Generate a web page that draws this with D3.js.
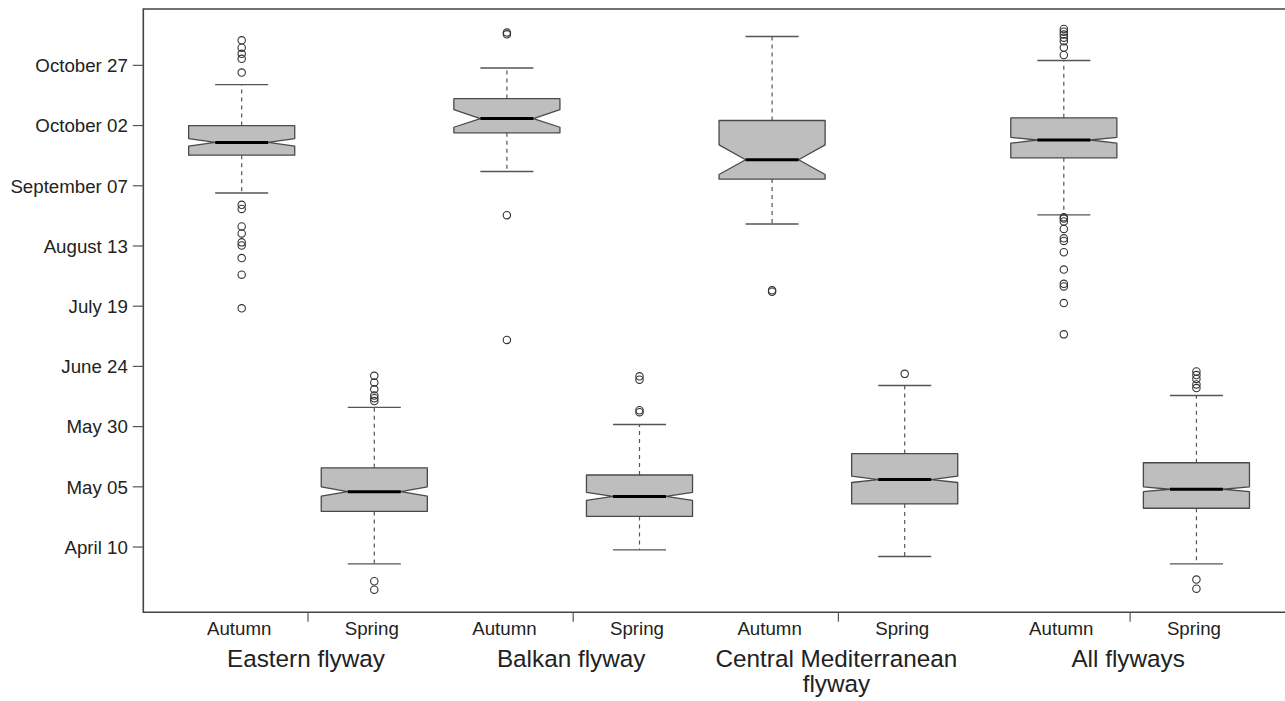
<!DOCTYPE html>
<html>
<head>
<meta charset="utf-8">
<script src="https://cdn.jsdelivr.net/npm/d3@7"></script>
<style>
  html, body { margin: 0; padding: 0; background: #fff; }
  svg { display: block; }
  text { font-family: "Liberation Sans", Arial, Helvetica, sans-serif; fill: #222; }
</style>
</head>
<body>
<svg id="chart" width="1285" height="701"></svg>
<script>
// ---- Data (day of year) ----
const groups = ["Eastern flyway", "Balkan flyway", "Central Mediterranean flyway", "All flyways"];
const seasons = ["Autumn", "Spring"];
const boxLabels = ["Autumn", "Spring", "Autumn", "Spring", "Autumn", "Spring", "Autumn", "Spring"];

const whiskerLow  = [247.0,  93.0, 255.9,  98.8, 234.1,  96.1, 237.9,  93.0];
const q1          = [262.7, 114.8, 272.0, 112.7, 252.8, 117.9, 261.6, 116.1];
const notchLow    = [266.5, 121.1, 274.3, 119.4, 254.7, 126.8, 267.7, 123.0];
const median      = [268.0, 123.0, 277.9, 121.0, 260.8, 128.0, 269.0, 124.0];
const notchHigh   = [269.6, 125.0, 281.6, 122.7, 267.0, 129.4, 270.1, 125.0];
const q3          = [275.0, 132.9, 286.2, 129.9, 277.1, 138.8, 278.2, 135.0];
const whiskerHigh = [292.0, 158.0, 298.9, 150.9, 312.0, 167.1, 302.0, 162.9];

const outliers = [
  [310.4, 307.3, 304.8, 302.7, 297.0, 242.1, 240.4, 233.1, 230.2, 226.5, 225.2, 220.0, 213.1, 199.1],
  [171.1, 168.3, 165.5, 162.9, 161.8, 160.6, 85.8, 82.3],
  [313.6, 312.9, 237.8, 186.0],
  [170.9, 169.5, 156.8, 156.0],
  [206.6, 206.0],
  [171.9],
  [315.1, 314.0, 312.8, 311.5, 310.0, 307.4, 304.3, 236.9, 236.4, 235.2, 232.1, 228.2, 227.1, 222.4, 215.2, 209.3, 208.2, 201.3, 188.3],
  [172.9, 171.4, 169.8, 167.5, 166.0, 86.5, 82.7]
];

const tickDays   = [100, 125, 150, 175, 200, 225, 250, 275, 300];
const tickLabels = ["April 10", "May 05", "May 30", "June 24", "July 19", "August 13", "September 07", "October 02", "October 27"];

// ---- Layout ----
const groupShift = [0, 0, 0, 0.2];          // extra gap before "All flyways"
const boxPos = boxLabels.map((_, i) => i + 1 + groupShift[Math.floor(i / 2)]);
const plot = { left: 143.3, top: 9, bottom: 612.3, right: 1290 };

const svg = d3.select("#chart");
const x = d3.scaleLinear().domain([0.258, 8.868]).range([143.3, 1285]);
const y = d3.scaleLinear().domain([72.9, 323.4]).range([612.3, 9]);
const unit = x(2) - x(1);
const hw = 0.4 * unit;   // half box width

const lineCol = "#555";

// boxes
boxLabels.forEach((lab, i) => {
  const cx = x(boxPos[i]);
  const g = svg.append("g");
  // whiskers (dashed)
  g.append("line").attr("x1", cx).attr("x2", cx)
    .attr("y1", y(q3[i])).attr("y2", y(whiskerHigh[i]))
    .attr("stroke", lineCol).attr("stroke-width", 1.2).attr("stroke-dasharray", "4,4");
  g.append("line").attr("x1", cx).attr("x2", cx)
    .attr("y1", y(q1[i])).attr("y2", y(whiskerLow[i]))
    .attr("stroke", lineCol).attr("stroke-width", 1.2).attr("stroke-dasharray", "4,4");
  // staples
  [whiskerHigh[i], whiskerLow[i]].forEach(v => {
    g.append("line").attr("x1", cx - hw / 2).attr("x2", cx + hw / 2)
      .attr("y1", y(v)).attr("y2", y(v))
      .attr("stroke", lineCol).attr("stroke-width", 1.4);
  });
  // notched box
  const pts = [
    [cx - hw, y(q1[i])], [cx + hw, y(q1[i])], [cx + hw, y(notchLow[i])],
    [cx + hw / 2, y(median[i])], [cx + hw, y(notchHigh[i])], [cx + hw, y(q3[i])],
    [cx - hw, y(q3[i])], [cx - hw, y(notchHigh[i])], [cx - hw / 2, y(median[i])],
    [cx - hw, y(notchLow[i])]
  ];
  g.append("polygon").attr("points", pts.map(p => p.join(",")).join(" "))
    .attr("fill", "#bebebe").attr("stroke", "#4a4a4a").attr("stroke-width", 1.3)
    .attr("stroke-linejoin", "round");
  // median
  g.append("line").attr("x1", cx - hw / 2).attr("x2", cx + hw / 2)
    .attr("y1", y(median[i])).attr("y2", y(median[i]))
    .attr("stroke", "#000").attr("stroke-width", 3);
  // outliers
  g.selectAll("circle").data(outliers[i]).enter().append("circle")
    .attr("cx", cx).attr("cy", d => y(d)).attr("r", 3.7)
    .attr("fill", "none").attr("stroke", "#333").attr("stroke-width", 1.1);
});

// frame (right side lies beyond the picture)
svg.append("path")
  .attr("d", `M${plot.right},${plot.top} H${plot.left} V${plot.bottom} H${plot.right}`)
  .attr("fill", "none").attr("stroke", "#444").attr("stroke-width", 1.6);

// y axis ticks + labels
const yAxis = svg.append("g");
tickDays.forEach((d, i) => {
  yAxis.append("line").attr("x1", plot.left - 10.5).attr("x2", plot.left)
    .attr("y1", y(d)).attr("y2", y(d)).attr("stroke", "#555").attr("stroke-width", 1.2);
  yAxis.append("text").attr("x", plot.left - 15.5).attr("y", y(d))
    .attr("dy", "0.36em").attr("text-anchor", "end")
    .style("font-size", "18.7px").text(tickLabels[i]);
});

// x axis: ticks between seasons, season labels, group labels
groups.forEach((gname, gi) => {
  const a = x(boxPos[gi * 2]), b = x(boxPos[gi * 2 + 1]);
  const mid = (a + b) / 2;
  svg.append("line").attr("x1", mid).attr("x2", mid)
    .attr("y1", plot.bottom).attr("y2", plot.bottom + 9.5)
    .attr("stroke", "#555").attr("stroke-width", 1.2);
  seasons.forEach((s, si) => {
    svg.append("text").attr("x", (si === 0 ? a : b) - 2.5).attr("y", 635)
      .attr("text-anchor", "middle").style("font-size", "18.7px").text(s);
  });
  const lines = gname === "Central Mediterranean flyway" ? ["Central Mediterranean", "flyway"] : [gname];
  lines.forEach((t, li) => {
    svg.append("text").attr("x", mid - 2).attr("y", 666.7 + li * 25.5)
      .attr("text-anchor", "middle").style("font-size", "24.3px").text(t);
  });
});
</script>
</body>
</html>
